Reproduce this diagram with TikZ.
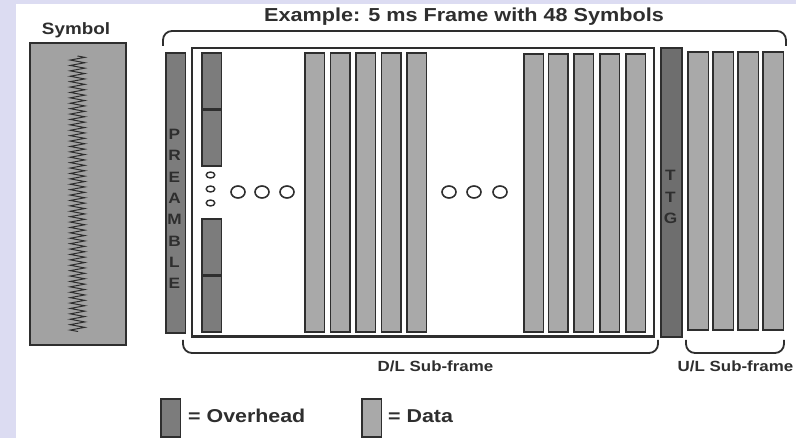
\documentclass[tikz,border=0pt]{standalone}
\usepackage{fontspec}
\setmainfont{Liberation Sans}[FakeStretch=1.15]
\usetikzlibrary{decorations.pathmorphing}
\definecolor{bgl}{HTML}{DCDCF2}
\definecolor{ovh}{HTML}{7C7C7C}
\definecolor{dat}{HTML}{A9A9A9}
\definecolor{symf}{HTML}{A2A2A2}
\definecolor{ttgf}{HTML}{6E6E6E}
\definecolor{ink}{HTML}{2E2E2E}
\tikzset{
  bar/.style={draw=ink, line width=1.7pt, anchor=north west, inner sep=0pt, minimum width=19.5pt},
  ovbar/.style={bar, fill=ovh},
  dtbar/.style={bar, fill=dat},
  lbl/.style={text=ink, inner sep=0pt, font=\bfseries},
  brace/.style={draw=ink, line width=1.8pt, rounded corners=9pt},
  dot/.style={draw=ink, line width=1.6pt},
  divider/.style={draw=ink, line width=2.6pt},
}
\begin{document}
\begin{tikzpicture}[x=1pt,y=-1pt]
\useasboundingbox (0,0) rectangle (796,438);
\fill[bgl] (0,0) rectangle (796,438);
\fill[white] (16,4) rectangle (796,438);
% symbol
\node[lbl, anchor=base, font=\bfseries\fontsize{16.4}{18}\selectfont] (symlbl) at (76,35) {Symbol};
\node[draw=ink, line width=1.6pt, fill=symf, anchor=north west, inner sep=0pt, minimum width=96pt, minimum height=302pt] (sym) at (29,42) {};
\draw[line width=1pt, ink, decorate, decoration={zigzag, segment length=5.4pt, amplitude=7.3pt}] (77.5,56) -- (77.5,332);
% title and top brace
\node[lbl, anchor=base, font=\bfseries\fontsize{18.8}{22}\selectfont] (title) at (464,22) {Example: 5 ms Frame with 48 Symbols};
\coordinate (tb1) at (163,46);
\coordinate (tb2) at (163,31);
\coordinate (tb3) at (786,31);
\coordinate (tb4) at (786,46);
\draw[brace] (tb1) -- (tb2) -- (tb3) -- (tb4);
% preamble
\node[ovbar, minimum height=280pt] (pre) at (165,52) {};
\node[lbl, align=center, font=\bfseries\fontsize{15}{21.3}\selectfont] (pretext) at (174.5,209) {P\\R\\E\\A\\M\\B\\L\\E};
% D/L frame
\node[draw=ink, line width=2.4pt, anchor=north west, inner sep=0pt, minimum width=462.5pt, minimum height=288.5pt] (dlframe) at (190.5,47) {};
% overhead column
\node[ovbar, minimum height=56pt] (oh1) at (201,52) {};
\node[ovbar, minimum height=57pt] (oh2) at (201,108) {};
\node[ovbar, minimum height=56pt] (oh3) at (201,218) {};
\node[ovbar, minimum height=57pt] (oh4) at (201,274) {};
\draw[divider] (oh1.south west) -- (oh1.south east);
\draw[divider] (oh3.south west) -- (oh3.south east);
% small vertical dots
\foreach \yy in {175,189,203} \draw[dot, line width=1.4pt] (210.5,\yy) ellipse [x radius=4.3pt, y radius=3pt];
% big dots
\foreach \xx in {238,262,287,449,474,500} \draw[dot] (\xx,192) ellipse [x radius=7pt, y radius=6pt];
% data group 1
\foreach \xx [count=\i] in {304,329.5,355,380.5,406} \node[dtbar, minimum height=279pt] (da\i) at (\xx,52) {};
% data group 2
\foreach \xx [count=\i] in {523,547.5,573,599,625} \node[dtbar, minimum height=278pt] (db\i) at (\xx,53) {};
% TTG
\node[bar, fill=ttgf, minimum width=21pt, minimum height=289pt] (ttg) at (660,47) {};
\node[lbl, align=center, font=\bfseries\fontsize{15}{21.5}\selectfont] (ttgtext) at (670.5,197) {T\\T\\G};
% U/L bars
\foreach \xx [count=\i] in {687,712,737,762} \node[dtbar, minimum width=20.5pt, minimum height=278pt] (ul\i) at (\xx,51) {};
% bottom braces
\coordinate (db1) at (183,340);
\coordinate (db2) at (183,353);
\coordinate (db3) at (658,353);
\coordinate (db4) at (658,340);
\draw[brace] (db1) -- (db2) -- (db3) -- (db4);
\coordinate (ub1) at (686,340);
\coordinate (ub2) at (686,353);
\coordinate (ub3) at (784,353);
\coordinate (ub4) at (784,340);
\draw[brace] (ub1) -- (ub2) -- (ub3) -- (ub4);
\node[lbl, anchor=base, font=\bfseries\fontsize{14.7}{17}\selectfont] (dllbl) at (435.5,372) {D/L Sub-frame};
\node[lbl, anchor=base, font=\bfseries\fontsize{14.7}{17}\selectfont] (ullbl) at (735.5,372) {U/L Sub-frame};
% legend
\node[ovbar, minimum height=38pt] (legov) at (160,398) {};
\node[lbl, anchor=base west, font=\bfseries\fontsize{18.6}{21}\selectfont] (legovt) at (188,423) {= Overhead};
\node[dtbar, minimum height=38pt] (legdt) at (361,398) {};
\node[lbl, anchor=base west, font=\bfseries\fontsize{18.6}{21}\selectfont] (legdtt) at (388,423) {= Data};
\end{tikzpicture}
\end{document}
